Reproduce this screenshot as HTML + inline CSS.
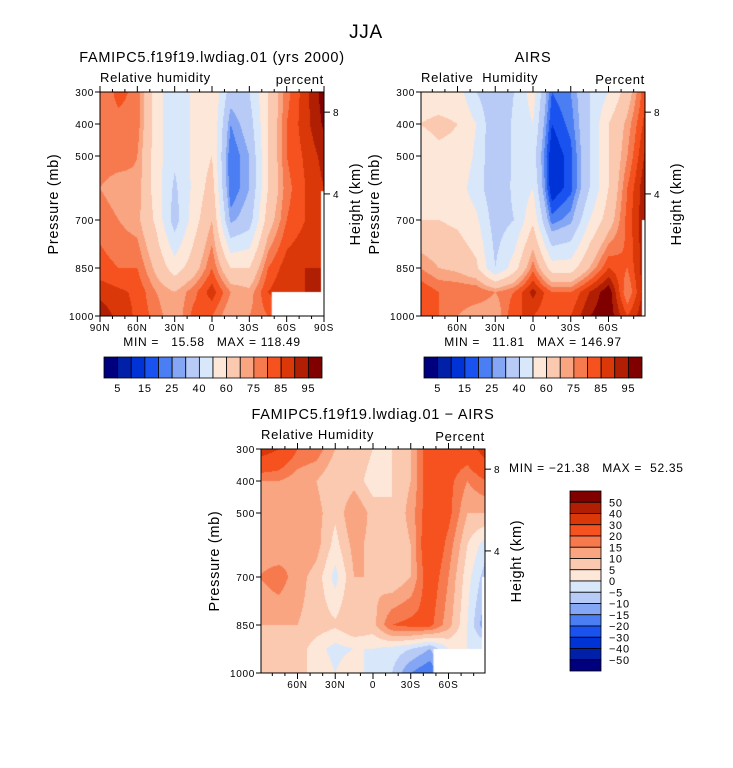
<!DOCTYPE html>
<html><head><meta charset="utf-8">
<style>
html,body{margin:0;padding:0;background:#fff;}
#wrap{position:relative;width:733px;height:768px;overflow:hidden;}
canvas{position:absolute;left:0;top:0;}
svg{position:absolute;left:0;top:0;}
text{font-family:"Liberation Sans",sans-serif;fill:#000;white-space:pre;letter-spacing:0.7px;}
</style></head>
<body>
<div id="wrap">
<canvas id="cv" width="733" height="768"></canvas>
<svg id="sv" width="733" height="768"></svg>
</div>
<script>
// ---- data ----
const lats = [90,75,60,45,30,15,0,-15,-30,-45,-60,-75,-90];
const levels = [300,400,500,600,700,850,925,1000];
const modelRH = [
 [75,82,78,55,42,52,60,35,40,60,78,88,98],
 [78,78,78,55,42,52,60,25,35,60,80,88,96],
 [78,78,75,55,42,52,60,20,30,60,80,86,92],
 [75,72,74,55,38,52,65,20,30,60,78,85,90],
 [78,75,72,58,35,55,70,28,35,65,80,85,88],
 [82,80,80,68,55,65,80,60,60,80,88,90,90],
 [88,86,84,75,70,78,88,75,72,85,90,90,90],
 [94,88,84,78,70,82,80,70,75,80,85,88,90]];
const airsRH = [
 [55,55,55,40,30,40,55,20,25,40,50,65,85],
 [60,62,60,50,30,42,50,15,22,40,60,72,88],
 [55,58,58,48,30,42,45,10,18,40,60,75,92],
 [55,55,55,45,32,42,50,10,18,40,60,80,95],
 [60,60,58,52,35,40,58,22,28,50,65,82,95],
 [75,70,68,62,40,55,78,55,55,70,85,80,95],
 [85,80,80,80,75,80,92,80,80,90,99,75,95],
 [85,80,75,70,70,85,85,80,85,95,99,85,95]];
const diffRH = [
 [35,30,20,18,10,10,5,5,10,25,25,25,35],
 [15,15,12,10,5,8,2,5,10,25,22,15,20],
 [12,12,12,12,6,15,8,5,12,25,22,10,10],
 [12,10,15,12,3,12,8,5,10,28,18,5,-3],
 [15,18,12,8,-2,10,10,5,10,25,15,2,-8],
 [10,10,10,8,6,10,8,20,22,22,12,0,-15],
 [5,5,8,2,-2,0,0,-2,-5,-10,0,0,0],
 [5,5,5,5,0,5,-5,-5,-15,-20,-10,0,0]];
const rhLevels = [5,10,15,20,25,30,40,50,60,70,75,80,85,90,95];
const rhLabels = ["5","15","25","40","60","75","85","95"];
const diffLevels = [-50,-40,-30,-20,-15,-10,-5,0,5,10,15,20,30,40,50];
const xTickLabels1 = ["90N","60N","30N","0","30S","60S","90S"];
const xTickVals1 = [90,60,30,0,-30,-60,-90];
const xTickLabels2 = ["60N","30N","0","30S","60S"];
const xTickVals2 = [60,30,0,-30,-60];
const pTicks = [300,400,500,700,850,1000];
const hTicks = [["8",8],["4",4]];
const palette = ["#00007f","#0020a8","#0033d6","#1a52f0","#4a7ef2","#85a6f4","#b8cbf6","#d9e7fb",
 "#fde7d9","#fbc8b0","#f9a582","#f77a4f","#f5521f","#db3809","#b01f03","#800000"];

const cv = document.getElementById('cv'), ctx = cv.getContext('2d');
const sv = document.getElementById('sv');
const NS = "http://www.w3.org/2000/svg";
function el(tag, attrs, parent){const e=document.createElementNS(NS,tag);for(const k in attrs)e.setAttribute(k,attrs[k]);(parent||sv).appendChild(e);return e;}
function txt(x,y,s,size,anchor,name,rot){
  const t=el('text',{x:x,y:y,'font-size':size,'text-anchor':anchor||'start'});
  if(rot) t.setAttribute('transform','rotate(-90 '+x+' '+y+')');
  t.textContent=s;
  
  
  return t;
}
function sample(grid, lat, p){
  let fi=(90-lat)/15; fi=Math.max(0,Math.min(12,fi));
  let j=0; while(j<levels.length-2 && p>levels[j+1]) j++;
  let fj=(p-levels[j])/(levels[j+1]-levels[j]); fj=Math.max(0,Math.min(1,fj));
  const i0=Math.min(11,Math.floor(fi)), fx=fi-i0;
  const a=grid[j][i0],b=grid[j][i0+1],c=grid[j+1][i0],d=grid[j+1][i0+1];
  return (a*(1-fx)+b*fx)*(1-fj)+(c*(1-fx)+d*fx)*fj;
}
function colorFor(v, lv){let k=0; while(k<lv.length && v>=lv[k]) k++; return palette[k];}

function panel(o){
  const {x0,y0,w,h,latMax,grid,lv,title,left,right,xt,xv,blank,strip} = o;
  const g=el('g',{});
  
  
  const px=(lat)=>x0+(latMax-lat)/(2*latMax)*w;
  const py=(p)=>y0+(p-300)/700*h;
  const step=1;
  for(let yy=0; yy<h; yy+=step){
    for(let xx=0; xx<w; xx+=step){
      const lat=latMax-(xx+step/2)/w*2*latMax, p=300+(yy+step/2)/h*700;
      ctx.fillStyle=colorFor(sample(grid,lat,p),lv);
      ctx.fillRect(x0+xx,y0+yy,step,step);
    }
  }
  ctx.fillStyle="#fff";
  if(blank) ctx.fillRect(px(blank[0]),py(blank[1]),x0+w-px(blank[0]),y0+h-py(blank[1]));
  if(strip) ctx.fillRect(x0+w-3,py(strip),3,y0+h-py(strip));
  el('rect',{x:x0,y:y0,width:w,height:h,fill:'none',stroke:'#000','stroke-width':1},g);
  for(let lat=-90; lat<=90; lat+=10){
    if(Math.abs(lat)>latMax) continue;
    const X=px(lat), major=(lat%30===0);
    const L=major?6:3;
    el('line',{x1:X,y1:y0+h,x2:X,y2:y0+h+L,stroke:'#000'},g);
    el('line',{x1:X,y1:y0,x2:X,y2:y0-L,stroke:'#000'},g);
  }
  xv.forEach((v,i)=>txt(px(v),y0+h+15,xt[i],10,'middle','x-tick-label'));
  pTicks.forEach(p=>{el('line',{x1:x0,y1:py(p),x2:x0-5,y2:py(p),stroke:'#000'},g);
    txt(x0-6,py(p)+4,String(p),10,'end','y-tick-label');});
  hTicks.forEach(hk=>{const Y=y0+h*(hk[0]==="8"?0.09:0.455);
    el('line',{x1:x0+w,y1:Y,x2:x0+w+6,y2:Y,stroke:'#000'},g);
    txt(x0+w+9,Y+4,hk[0],10,'start','height-tick-label');});
  txt(x0+w/2,y0-30,title,14.5,'middle','panel-title');
  txt(x0,y0-10,left,13,'start','variable-label');
  txt(x0+w,y0-8,right,13,'end','units-label');
  txt(x0-42,y0+h/2,'Pressure (mb)',14.5,'middle','y-axis-title',true);
  txt(x0+w+36,y0+h/2,'Height (km)',14.5,'middle','right-axis-title',true);
}
panel({name:'model-panel',x0:100,y0:92,w:224,h:224,latMax:90,grid:modelRH,lv:rhLevels,
  title:'FAMIPC5.f19f19.lwdiag.01 (yrs 2000)',left:'Relative humidity',right:'percent',
  xt:xTickLabels1,xv:xTickVals1,blank:[-48,925],strip:610});
panel({name:'airs-panel',x0:421,y0:92,w:224,h:224,latMax:89,grid:airsRH,lv:rhLevels,
  title:'AIRS',left:'Relative  Humidity',right:'Percent',
  xt:xTickLabels2,xv:xTickVals2,blank:null,strip:700});
panel({name:'diff-panel',x0:261,y0:449,w:224,h:224,latMax:89,grid:diffRH,lv:diffLevels,
  title:'FAMIPC5.f19f19.lwdiag.01 \u2212 AIRS',left:'Relative Humidity',right:'Percent',
  xt:xTickLabels2,xv:xTickVals2,blank:[-48,925],strip:700});

txt(366,38,'JJA',19,'middle','figure-title');
txt(212,346,'MIN =   15.58   MAX = 118.49',12,'middle','model-min-max');
txt(533,346,'MIN =   11.81   MAX = 146.97',12,'middle','airs-min-max');
txt(509,472,'MIN = \u221221.38   MAX =  52.35',12,'start','diff-min-max');

function hbar(x0,y0,w,h,name){
  const g=el('g',{});
  const bw=w/palette.length;
  palette.forEach((c,i)=>el('rect',{x:x0+i*bw,y:y0,width:bw,height:h,fill:c,stroke:'#000','stroke-width':0.8},g));
  rhLabels.forEach((s,k)=>txt(x0+(2*k+1)*bw,y0+h+14,s,11,'middle','colorbar-label'));
}
hbar(104,357,218,21,'model-colorbar');
hbar(424,357,218,21,'airs-colorbar');
(function(){
  const x0=570,y0=491,w=31,h=180,g=el('g',{});
  
  const bh=h/palette.length;
  for(let i=0;i<palette.length;i++)
    el('rect',{x:x0,y:y0+i*bh,width:w,height:bh,fill:palette[palette.length-1-i],stroke:'#000','stroke-width':0.8},g);
  for(let k=0;k<diffLevels.length;k++){
    const v=diffLevels[diffLevels.length-1-k];
    txt(x0+w+8,y0+(k+1)*bh+4,(v<0?'\u2212':'')+Math.abs(v),11,'start','colorbar-label');
  }
})();
</script>
</body></html>
